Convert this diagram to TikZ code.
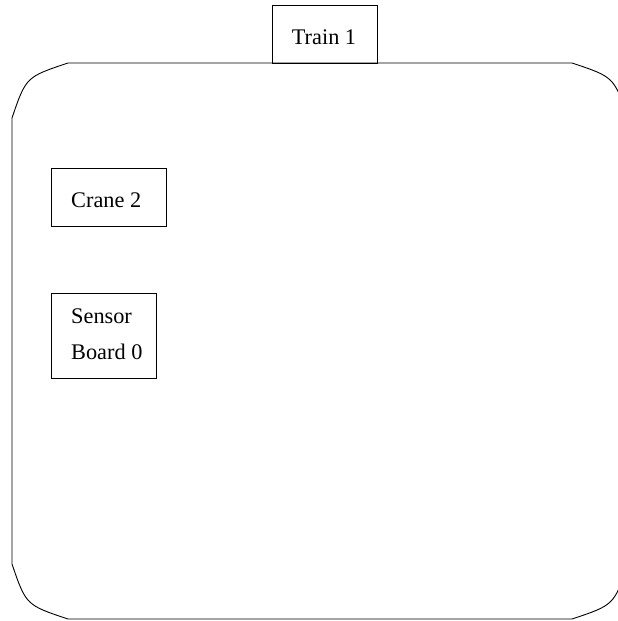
\documentclass[tikz,border=0pt]{standalone}
\usepackage{fontspec}
\setmainfont{Liberation Serif}
\usetikzlibrary{calc}
\tikzset{
  box/.style={draw, line width=0.9pt, anchor=north west, inner sep=0pt},
  lbl/.style={inner sep=0pt, anchor=base west, font=\fontsize{22.3}{36.7}\selectfont},
  outline/.style={draw, line width=0.9pt}
}
\begin{document}
\begin{tikzpicture}[x=1pt, y=-1pt]
  \useasboundingbox (0,0) rectangle (618,621);
  \clip (0,0) rectangle (618,621);

  % enclosing area with bevelled, rounded corners
  \path[outline] (68,63) -- (572,63)
    .. controls (614,77) and (614,77) .. (628,118) -- (628,564)
    .. controls (614,605) and (614,605) .. (572,619) -- (68,619)
    .. controls (26,605) and (26,605) .. (12,564) -- (12,118)
    .. controls (26,77) and (26,77) .. cycle;

  % Train 1, sitting on the top edge
  \node[box, minimum width=105pt, minimum height=57.5pt] (train) at (272,5) {};
  \node[lbl] (trainlbl) at ($(train.north west)+(19.7,39.3)$) {Train 1};

  % Crane 2
  \node[box, minimum width=115pt, minimum height=57.4pt] (crane) at (51,168.3) {};
  \node[lbl] (cranelbl) at ($(crane.north west)+(20,39)$) {Crane 2};

  % Sensor Board 0
  \node[box, minimum width=105pt, minimum height=84.4pt] (sensor) at (51,293.3) {};
  \node[lbl] (sensorlbl) at ($(sensor.north west)+(20,30)$) {Sensor};
  \node[lbl] (boardlbl) at ($(sensor.north west)+(20,66.5)$) {Board 0};
\end{tikzpicture}
\end{document}
